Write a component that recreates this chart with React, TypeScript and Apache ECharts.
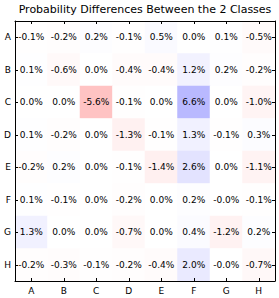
import React, { useEffect, useRef } from "react";
import * as echarts from "echarts";

const xCategories = ["A", "B", "C", "D", "E", "F", "G", "H"];
const yCategories = ["A", "B", "C", "D", "E", "F", "G", "H"];

const rowA = [-0.1, -0.2, 0.2, -0.1, 0.5, 0.0, 0.1, -0.5];
const rowB = [0.1, -0.6, 0.0, -0.4, -0.4, 1.2, 0.2, -0.2];
const rowC = [0.0, 0.0, -5.6, -0.1, 0.0, 6.6, 0.0, -1.0];
const rowD = [0.1, -0.2, 0.0, -1.3, -0.1, 1.3, -0.1, 0.3];
const rowE = [-0.2, 0.2, 0.0, -0.1, -1.4, 2.6, 0.0, -1.1];
const rowF = [0.1, -0.1, 0.0, -0.2, 0.0, 0.2, -0.02, -0.1];
const rowG = [1.3, 0.0, 0.0, -0.7, 0.0, 0.4, -1.2, 0.2];
const rowH = [-0.2, -0.3, -0.1, -0.2, -0.4, 2.0, -0.02, -0.7];

const rows = [rowA, rowB, rowC, rowD, rowE, rowF, rowG, rowH];
const colorLimit = 24;
const titleText = "Probability Differences Between the 2 Classes";

export default function App() {
  const ref = useRef<HTMLDivElement>(null);
  useEffect(() => {
    document.body.style.margin = "0";
    const chart = echarts.init(ref.current!, null, { renderer: "svg" });
    const data: [number, number, number][] = [];
    rows.forEach((r, yi) => r.forEach((v, xi) => data.push([xi, yi, v])));
    const font = "DejaVu Sans";
    const tick = { show: true, inside: true, length: 3, alignWithLabel: true, lineStyle: { color: "#000", width: 1 } };
    const line = { show: true, onZero: false, lineStyle: { color: "#000", width: 1 } };
    chart.setOption({
      animation: false,
      backgroundColor: "#fff",
      graphic: [
        {
          type: "text",
          x: 145,
          y: 4,
          style: {
            text: titleText,
            fontFamily: font,
            fontSize: 11,
            fill: "#000",
            align: "center",
            verticalAlign: "top",
          },
        },
      ],
      grid: { left: 15, right: 4, top: 21, bottom: 17, containLabel: false },
      xAxis: [
        {
          type: "category",
          data: xCategories,
          position: "bottom",
          z: 10,
          axisLine: line,
          axisTick: tick,
          axisLabel: { fontFamily: font, fontSize: 9, color: "#000", margin: 5 },
          splitLine: { show: false },
        },
        {
          type: "category",
          data: xCategories,
          position: "top",
          z: 10,
          axisLine: line,
          axisTick: tick,
          axisLabel: { show: false },
          splitLine: { show: false },
        },
      ],
      yAxis: [
        {
          type: "category",
          data: yCategories,
          inverse: true,
          position: "left",
          z: 10,
          axisLine: line,
          axisTick: tick,
          axisLabel: { fontFamily: font, fontSize: 9, color: "#000", margin: 4 },
          splitLine: { show: false },
        },
        {
          type: "category",
          data: yCategories,
          inverse: true,
          position: "right",
          z: 10,
          axisLine: line,
          axisTick: tick,
          axisLabel: { show: false },
          splitLine: { show: false },
        },
      ],
      visualMap: {
        show: false,
        min: -colorLimit,
        max: colorLimit,
        dimension: 2,
        seriesIndex: 0,
        inRange: { color: ["#ff0000", "#ffffff", "#0000ff"] },
      },
      series: [
        {
          type: "heatmap",
          xAxisIndex: 0,
          yAxisIndex: 0,
          data,
          label: {
            show: true,
            fontFamily: font,
            fontSize: 9,
            color: "#000",
            formatter: (p: any) => p.value[2].toFixed(1) + "%",
          },
          itemStyle: { borderWidth: 0 },
          emphasis: { disabled: true },
        },
      ],
    });
    return () => chart.dispose();
  }, []);
  return <div ref={ref} style={{ width: 279, height: 298 }} />;
}
